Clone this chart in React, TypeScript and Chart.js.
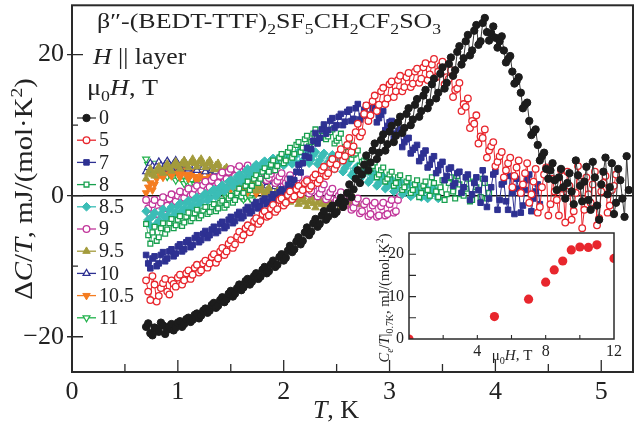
import React, { useEffect, useRef } from 'react';
import { Chart, registerables } from 'chart.js';
import { drawPoint } from 'chart.js/helpers';

Chart.register(...registerables);

const FONT = '"Liberation Serif", "Times New Roman", serif';
const INK = '#222';

// ---------- main plot data: two interleaved temperature grids ----------
const T_GRID = [
  0.70, 0.74, 0.78, 0.82, 0.86, 0.90, 0.94, 0.98, 1.02, 1.06,
  1.10, 1.14, 1.18, 1.22, 1.26, 1.30, 1.34, 1.38, 1.42, 1.46,
  1.50, 1.54, 1.58, 1.62, 1.66, 1.70, 1.74, 1.78, 1.82, 1.86,
  1.90, 1.94, 1.98, 2.02, 2.06, 2.10, 2.14, 2.18, 2.22, 2.26,
  2.30, 2.34, 2.38, 2.42, 2.46, 2.50, 2.54, 2.58, 2.62, 2.66,
  2.70, 2.74, 2.78, 2.82, 2.86, 2.90, 2.94, 2.98, 3.02, 3.06,
  3.10, 3.14, 3.18, 3.22, 3.26, 3.30, 3.34, 3.38, 3.42, 3.46,
  3.50, 3.54, 3.58, 3.62, 3.66, 3.70, 3.74, 3.78, 3.82, 3.86,
  3.90, 3.94, 3.98, 4.02, 4.06, 4.10, 4.14, 4.18, 4.22, 4.26,
  4.30, 4.34, 4.38, 4.42, 4.46, 4.50, 4.54, 4.58, 4.62, 4.66,
  4.70, 4.74, 4.78, 4.82, 4.86, 4.90, 4.94, 4.98, 5.02, 5.06,
  5.10, 5.14, 5.18, 5.22, 5.26,
];
const T_GRID_B = [
  0.72, 0.76, 0.80, 0.84, 0.88, 0.92, 0.96, 1.00, 1.04, 1.08,
  1.12, 1.16, 1.20, 1.24, 1.28, 1.32, 1.36, 1.40, 1.44, 1.48,
  1.52, 1.56, 1.60, 1.64, 1.68, 1.72, 1.76, 1.80, 1.84, 1.88,
  1.92, 1.96, 2.00, 2.04, 2.08, 2.12, 2.16, 2.20, 2.24, 2.28,
  2.32, 2.36, 2.40, 2.44, 2.48, 2.52, 2.56, 2.60, 2.64, 2.68,
  2.72, 2.76, 2.80, 2.84, 2.88, 2.92, 2.96, 3.00, 3.04, 3.08,
  3.12, 3.16, 3.20, 3.24, 3.28, 3.32, 3.36, 3.40, 3.44, 3.48,
  3.52, 3.56, 3.60, 3.64, 3.68, 3.72, 3.76, 3.80, 3.84, 3.88,
  3.92, 3.96, 4.00, 4.04, 4.08, 4.12, 4.16, 4.20, 4.24, 4.28,
  4.32, 4.36, 4.40, 4.44, 4.48, 4.52, 4.56, 4.60, 4.64, 4.68,
  4.72, 4.76, 4.80, 4.84, 4.88, 4.92, 4.96, 5.00, 5.04, 5.08,
  5.12, 5.16, 5.20, 5.24,
];

const DC_H0 = [
  -18.6, -19.5, -18.7, -19.3, -18.4, -19.0, -18.2, -18.7, -17.8, -18.2,
  -17.3, -17.6, -16.7, -17.0, -16.0, -16.3, -15.2, -15.6, -14.4, -14.7,
  -13.5, -13.9, -12.6, -13.0, -11.8, -12.2, -11.0, -11.5, -10.1, -10.7,
  -9.2, -9.8, -8.3, -8.8, -7.1, -7.6, -5.9, -6.4, -4.5, -5.1,
  -3.3, -4.0, -2.2, -3.0, -1.4, -2.3, -0.3, -0.9, 1.6, 0.9,
  3.6, 3.0, 5.7, 4.7, 7.4, 6.1, 8.7, 7.3, 9.9, 8.5,
  11.2, 9.6, 12.4, 10.8, 13.7, 12.0, 15.0, 13.2, 16.6, 14.6,
  18.2, 16.0, 19.6, 17.8, 21.2, 19.5, 22.8, 20.6, 24.2, 21.9,
  25.2, 22.0, 24.0, 21.0, 22.6, 18.9, 19.8, 15.9, 16.8, 12.4,
  13.2, 8.6, 9.4, 5.0, 6.1, 2.4, 4.6, 0.8, 3.8, -0.4,
  3.2, -1.2, 2.9, -0.8, 4.1, -2.0, 2.6, -3.4, 3.4, 0.2,
  4.6, -1.0, 2.2, -3.0, 0.8,
];
const DC_H0_B = [
  -18.1, -19.8, -18.9, -18.0, -19.6, -18.5, -19.1, -18.0, -18.6, -17.5,
  -17.9, -16.9, -17.4, -16.3, -16.6, -15.5, -15.9, -14.8, -15.1, -13.9,
  -14.3, -13.1, -13.4, -12.1, -12.6, -11.4, -11.8, -10.5, -11.0, -9.7,
  -10.1, -8.7, -9.2, -7.8, -8.0, -6.5, -6.9, -5.2, -5.6, -3.9,
  -4.4, -2.8, -3.4, -1.8, -2.6, -1.0, -1.6, 0.4, -0.2, 2.4,
  1.8, 4.4, 3.6, 6.4, 5.2, 7.9, 6.4, 9.1, 7.6, 10.4,
  8.9, 11.6, 10.0, 12.9, 11.2, 14.2, 12.4, 15.8, 13.8, 17.3,
  15.2, 18.7, 17.0, 20.4, 18.6, 21.9, 19.9, 23.4, 21.4, 24.5,
  23.2, 23.0, 22.4, 21.9, 20.6, 19.4, 17.6, 16.2, 14.6, 12.9,
  10.6, 9.0, 7.2, 5.6, 3.8, 3.6, 2.2, 2.6, 1.2, 1.8,
  0.6, 5.0, 1.4, 2.0, -0.6, 4.8, -1.4, 1.6, 5.4, 1.2,
  -2.6, 3.8, -0.4, 5.6,
];

const DC_H5 = [
  -12.0, -14.8, -12.6, -14.2, -12.4, -13.6, -12.0, -12.9, -11.2, -12.0,
  -10.6, -11.2, -9.8, -10.6, -9.2, -9.6, -8.3, -8.9, -7.4, -7.9,
  -6.3, -6.9, -5.1, -5.6, -4.2, -4.6, -3.2, -3.6, -2.2, -2.8,
  -1.3, -1.9, -0.4, -1.0, 0.6, -0.1, 1.4, 0.8, 2.1, 1.4,
  3.0, 2.3, 4.1, 3.2, 5.2, 4.4, 6.6, 5.6, 8.2, 7.0,
  10.2, 9.0, 12.8, 11.4, 14.2, 12.9, 15.3, 13.8, 16.2, 14.8,
  17.0, 15.4, 17.4, 15.9, 18.0, 16.6, 18.8, 17.2, 19.4, 17.6,
  19.0, 16.8, 17.8, 15.0, 16.0, 13.0, 13.8, 10.6, 11.4, 8.4,
  9.4, 6.4, 7.6, 4.8, 6.2, 3.6, 5.4, 2.8, 5.0, 1.6,
  4.6, 0.2, 3.8, -1.6, 3.0, -2.8, 2.4, -0.6, 3.6, -3.8,
  1.4, -2.2, 4.2, -4.6, 2.6, -1.0, 3.4, -3.2, 1.8, -2.4,
  0.8, 3.0,
];
const DC_H5_B = [
  -13.6, -11.4, -15.0, -13.1, -11.8, -14.0, -12.5, -11.6, -12.6, -11.0,
  -11.8, -10.2, -10.9, -9.6, -10.2, -8.7, -9.5, -7.9, -8.4, -6.8,
  -7.4, -5.8, -6.2, -4.6, -5.2, -3.6, -4.0, -2.6, -3.0, -1.8,
  -2.3, -0.6, -1.4, 0.1, -0.5, 0.9, 0.2, 1.8, 1.0, 2.6,
  1.8, 3.6, 2.8, 4.6, 3.8, 5.8, 5.0, 7.2, 6.2, 9.0,
  8.4, 11.6, 10.6, 13.4, 12.0, 14.8, 13.0, 15.8, 14.0, 16.4,
  14.8, 16.8, 15.4, 17.6, 16.0, 18.2, 16.4, 18.6, 16.8, 18.4,
  15.8, 16.6, 14.0, 15.2, 12.0, 12.6, 9.6, 10.2, 7.4, 8.2,
  5.4, 7.0, 4.2, 5.6, 2.6, 4.6, 1.2, 4.0, 0.4, 3.2,
  -1.0, 2.0, -2.4, 1.2, 4.0, -1.2, 0.6, -2.8, 1.0, 3.4,
  -3.4, 0.4, 2.0, -2.0, 0.2, 1.6, -4.2, 0.6, 2.8, -1.4,
  1.4,
];

const DC_H7 = [
  -8.4, -10.3, -8.6, -9.6, -8.0, -8.9, -7.6, -8.2, -6.9, -7.6,
  -6.3, -7.0, -5.6, -6.3, -5.0, -5.6, -4.4, -5.0, -3.7, -4.3,
  -3.0, -3.6, -2.3, -2.9, -1.6, -2.2, -0.9, -1.5, -0.4, -0.9,
  0.2, -0.3, 0.9, 0.6, 2.4, 2.2, 4.4, 4.6, 6.8, 6.6,
  8.9, 8.2, 10.1, 9.3, 11.0, 10.0, 11.6, 10.5, 12.2, 10.9,
  13.0, 11.3, 12.8, 11.5, 12.9, 11.0, 12.0, 9.9, 10.6, 8.8,
  9.4, 7.6, 8.2, 6.5, 7.2, 5.4, 6.4, 4.4, 5.6, 3.6,
  4.8, 2.8, 4.0, 1.8, 3.4, 1.2, 3.0, 0.2, 2.6, -1.0,
  2.4, -0.4, 3.0, -2.0, 1.6, -0.8, 2.8, -2.6, 1.0, -1.4,
  2.2, -2.2, 0.6, -1.2,
];
const DC_H7_B = [
  -9.6, -8.9, -10.0, -8.4, -9.3, -7.9, -8.6, -7.2, -7.9, -6.6,
  -7.3, -6.0, -6.6, -5.4, -6.0, -4.8, -5.3, -4.0, -4.6, -3.4,
  -3.9, -2.7, -3.2, -2.0, -2.5, -1.3, -1.8, -0.7, -1.2, -0.2,
  -0.6, 0.5, 0.2, 1.5, 1.3, 3.4, 3.3, 5.6, 5.4, 7.8,
  7.4, 9.4, 8.8, 10.6, 9.6, 11.2, 10.0, 11.9, 10.6, 12.4,
  10.8, 12.2, 10.9, 12.4, 10.4, 11.5, 9.3, 10.4, 8.1, 9.2,
  6.9, 8.0, 6.0, 6.8, 4.9, 6.0, 4.0, 5.2, 3.2, 4.4,
  2.2, 3.8, 1.4, 3.2, 0.4, 2.6, -0.6, 1.8, 0.8, 3.6,
  -1.6, 1.2, 3.4, -0.6, 2.0, -2.0, 0.4, 2.4, -2.4, 0.8,
  3.0, -0.4, 1.6,
];

const DC_H8 = [
  -4.0, -6.8, -4.4, -5.9, -3.9, -4.8, -3.3, -4.2, -2.9, -3.8,
  -2.4, -3.2, -2.0, -2.8, -1.6, -2.3, -1.2, -1.8, -0.7, -1.3,
  0.0, -0.6, 1.0, 0.4, 2.0, 1.4, 2.9, 2.4, 3.9, 3.4,
  5.0, 4.2, 5.9, 5.0, 6.8, 5.9, 7.6, 6.8, 8.5, 7.6,
  9.4, 8.2, 9.8, 8.4, 9.4, 7.8, 8.8, 6.9, 7.6, 5.8,
  6.4, 4.8, 5.5, 3.8, 4.7, 3.0, 4.0, 2.4, 3.4, 1.8,
  2.9, 1.2, 2.5, 0.8, 2.2, 0.4, 2.0, 0.0, 1.8, -0.2,
  2.2, 0.2, 2.6, -0.4, 1.6, 0.0, 2.4, -0.6, 1.2, -0.2,
  1.8, 0.4,
];
const DC_H8_B = [
  -5.6, -5.2, -6.4, -4.6, -5.4, -3.9, -4.6, -3.4, -4.3, -3.0,
  -3.6, -2.5, -3.2, -2.1, -2.6, -1.6, -2.2, -1.0, -1.7, -0.4,
  -1.0, 0.4, -0.1, 1.4, 0.8, 2.4, 1.8, 3.4, 2.8, 4.4,
  3.6, 5.4, 4.6, 6.2, 5.4, 7.2, 6.2, 8.0, 7.0, 8.8,
  7.6, 9.2, 8.0, 9.0, 7.4, 8.2, 6.4, 7.2, 5.2, 6.0,
  4.2, 5.0, 3.4, 4.2, 2.6, 3.6, 2.0, 3.0, 1.4, 2.6,
  0.8, 2.0, 0.4, 1.6, -0.2, 1.4, 0.8, 2.6, 0.6, 1.2,
  -0.6, 1.8, 0.6, 2.8, 0.2, 1.0, -0.8, 2.0, 0.8, 2.4,
  -0.4,
];

const DC_H85 = [
  -2.2, -4.2, -2.4, -3.6, -1.9, -2.9, -1.6, -2.4, -1.1, -1.9,
  -0.7, -1.4, -0.2, -0.9, 0.3, -0.4, 0.9, 0.3, 1.5, 1.0,
  2.2, 1.7, 3.0, 2.4, 3.8, 3.1, 4.4, 3.7, 4.9, 4.1,
  5.3, 4.4, 5.7, 4.7, 6.0, 4.9, 6.2, 5.0, 6.3, 5.1,
  6.2, 5.0, 6.0, 4.7, 5.8, 4.4, 5.3, 3.9, 4.8, 3.3,
  4.2, 2.8, 3.6, 2.3, 3.1, 1.8, 2.7, 1.3, 2.3, 0.9,
  2.0, 0.5, 1.7, 0.2, 1.4, -0.2, 1.2, 0.0, 1.0, -0.4,
];
const DC_H85_B = [
  -3.4, -2.9, -4.0, -2.6, -3.2, -2.0, -2.8, -1.5, -2.2, -1.0,
  -1.7, -0.5, -1.2, 0.0, -0.7, 0.6, -0.1, 1.2, 0.6, 2.0,
  1.3, 2.7, 2.0, 3.4, 2.8, 4.0, 3.3, 4.6, 3.8, 5.0,
  4.0, 5.4, 4.3, 5.6, 4.5, 5.8, 4.6, 5.9, 4.6, 5.8,
  4.5, 5.6, 4.2, 5.3, 3.8, 4.9, 3.4, 4.4, 2.9, 3.9,
  2.4, 3.4, 1.9, 2.9, 1.4, 2.4, 1.0, 2.0, 0.6, 1.7,
  0.2, 1.4, -0.1, 1.0, 0.4, 0.6, -0.4, 0.8, 0.2,
];

const DC_H9 = [
  -0.6, -2.8, -0.6, -2.2, -0.2, -1.4, 0.2, -0.8, 0.6, -0.3,
  1.0, 0.2, 1.4, 0.7, 2.0, 1.2, 2.6, 1.8, 3.3, 2.4,
  3.8, 2.8, 4.2, 3.0, 4.3, 3.0, 4.1, 2.8, 3.9, 2.5,
  3.6, 2.1, 3.2, 1.8, 2.9, 1.4, 2.6, 1.0, 2.3, 0.7,
  2.0, 0.3, 1.6, -0.1, 1.0, -0.6, 0.5, -1.2, 0.0, -1.7,
  -0.4, -2.2, -0.8, -2.6, -1.0, -2.8, -1.0, -2.6, -0.6, -2.2,
  0.2,
];
const DC_H9_B = [
  -1.8, -1.2, -2.6, -1.0, -1.8, -0.4, -1.2, 0.0, -0.4, 0.5,
  0.0, 1.0, 0.4, 1.5, 0.9, 2.2, 1.4, 2.8, 2.0, 3.4,
  2.4, 3.7, 2.6, 3.8, 2.6, 3.6, 2.4, 3.4, 2.2, 3.1,
  1.8, 2.7, 1.4, 2.4, 1.0, 2.0, 0.6, 1.7, 0.3, 1.4,
  -0.1, 1.0, -0.5, 0.5, -1.0, 0.0, -1.6, -0.4, -2.0, -0.9,
  -2.5, -1.2, -2.9, -1.4, -3.0, -1.5, -2.8, -1.2, -2.4, -0.6,
];

const DC_H95 = [
  2.4, 3.8, 2.8, 4.1, 3.2, 4.5, 3.5, 4.8, 3.8, 5.0,
  4.0, 5.2, 4.1, 5.2, 4.0, 5.0, 3.7, 4.6, 3.2, 4.0,
  2.5, 3.3, 1.8, 2.6, 1.2, 2.0, 0.7, 1.5, 0.2, 1.1,
  -0.2, 0.7, -0.5, 0.4, -0.9, 0.1, -1.2, -0.1, -1.5, -0.3,
  -1.7, -0.4, -1.8, -0.5, -1.8, -0.5, -1.7, -0.4, -1.5, -0.3,
  -1.2,
];
const DC_H95_B = [
  3.2, 3.0, 3.6, 3.5, 4.0, 3.9, 4.3, 4.2, 4.6, 4.4,
  4.7, 4.6, 4.8, 4.5, 4.6, 4.2, 4.3, 3.8, 3.7, 3.1,
  3.0, 2.4, 2.3, 1.8, 1.7, 1.2, 1.2, 0.7, 0.7, 0.3,
  0.3, 0.0, 0.0, -0.3, -0.4, -0.6, -0.6, -0.9, -0.8, -1.1,
  -1.0, -1.2, -1.1, -1.2, -1.0, -1.1, -1.0, -1.0, -0.8, -0.8,
];

const DC_H10 = [
  3.4, 4.6, 3.6, 4.8, 3.8, 4.9, 3.9, 5.0, 3.9, 4.9,
  3.8, 4.8, 3.6, 4.6, 3.4, 4.3, 3.0, 3.9, 2.6, 3.4,
  2.2, 3.0, 1.8, 2.6, 1.5, 2.3, 1.2, 2.1, 1.0, 1.9,
  0.8, 1.8, 0.6, 1.6, 0.5, 1.4,
];
const DC_H10_B = [
  4.0, 4.2, 4.2, 4.3, 4.4, 4.4, 4.5, 4.4, 4.4, 4.4,
  4.3, 4.2, 4.1, 4.0, 3.9, 3.6, 3.4, 3.2, 3.0, 2.8,
  2.6, 2.4, 2.2, 2.0, 1.9, 1.7, 1.6, 1.5, 1.4, 1.3,
  1.3, 1.2, 1.1, 1.0, 0.9,
];

const DC_H105 = [
  0.4, 1.8, 1.6, 3.3, 2.6, 4.0, 2.8, 3.9, 2.6, 3.7,
  2.4, 3.4, 2.1, 3.1, 1.8, 2.8, 1.5, 2.5, 1.2, 2.2,
  0.9, 1.9, 0.7, 1.6, 0.5, 1.4, 0.3, 1.2, 0.2, 1.0,
  0.0, 0.9, -0.1, 0.8,
];
const DC_H105_B = [
  1.2, 0.8, 2.4, 3.0, 3.4, 3.3, 3.4, 3.2, 3.2, 3.0,
  2.9, 2.7, 2.6, 2.4, 2.3, 2.1, 2.0, 1.8, 1.7, 1.5,
  1.4, 1.2, 1.1, 1.0, 0.9, 0.8, 0.7, 0.6, 0.6, 0.5,
  0.4, 0.4, 0.3,
];

const DC_H11 = [
  5.2, 3.8, 4.6, 3.2, 4.0, 2.7, 3.4, 2.2, 2.9, 1.7,
  2.4, 1.2, 1.9, 0.8, 1.5, 0.4, 1.1, 0.1, 0.8, -0.2,
  0.5, -0.4, 0.3, -0.5, 0.2, -0.6,
];
const DC_H11_B = [
  4.4, 4.3, 3.8, 3.7, 3.3, 3.1, 2.7, 2.6, 2.2, 2.1,
  1.7, 1.6, 1.3, 1.2, 0.9, 0.8, 0.5, 0.5, 0.2, 0.2,
  0.0, -0.1, -0.2, -0.2, -0.3,
];

const FIELD_LABELS = ['0', '5', '7', '8', '8.5', '9', '9.5', '10', '10.5', '11'];
const SERIES_VALUES = [DC_H0, DC_H5, DC_H7, DC_H8, DC_H85, DC_H9, DC_H95, DC_H10, DC_H105, DC_H11];
const SERIES_VALUES_B = [DC_H0_B, DC_H5_B, DC_H7_B, DC_H8_B, DC_H85_B, DC_H9_B, DC_H95_B, DC_H10_B, DC_H105_B, DC_H11_B];

const X_TICKS = [0, 1, 2, 3, 4, 5];
const X_MINOR = [0.5, 1.5, 2.5, 3.5, 4.5];
const Y_TICKS = [-20, 0, 20];
const Y_MINOR = [-10, 10];

// ---------- inset data ----------
const INSET_FIELD = [0, 5, 7, 8, 8.5, 9, 9.5, 10, 10.5, 11, 12];
const INSET_CE = [0, 5.3, 9.4, 13.4, 16.3, 18.4, 21.0, 21.7, 21.6, 22.2, 19.0];
const INSET_X_TICKS = [4, 8, 12];
const INSET_X_MINOR = [2, 4, 6, 8, 10];
const INSET_Y_TICKS = [0, 10, 20];
const INSET_Y_MINOR = [5, 10, 15, 20];

// ---------- styles ----------
const STYLES = [
  { color: '#1c1c1c', line: '#3a3a3a', fill: '#1c1c1c', style: 'circle', r: 3.7, rot: 0, bw: 1, lw: 1 },
  { color: '#e8262d', line: '#e8262d', fill: '#ffffff', style: 'circle', r: 3.3, rot: 0, bw: 1.3, lw: 1 },
  { color: '#2e3192', line: '#2e3192', fill: '#2e3192', style: 'rect', r: 3.9, rot: 0, bw: 1, lw: 1 },
  { color: '#18a04f', line: '#18a04f', fill: '#ffffff', style: 'rect', r: 3.4, rot: 0, bw: 1.3, lw: 0.8 },
  { color: '#3bbdb6', line: '#3bbdb6', fill: '#3bbdb6', style: 'rectRot', r: 4.3, rot: 0, bw: 1, lw: 0.8 },
  { color: '#c2379b', line: '#c2379b', fill: '#ffffff', style: 'circle', r: 3.3, rot: 0, bw: 1.3, lw: 0.8 },
  { color: '#a39b3c', line: '#a39b3c', fill: '#a39b3c', style: 'triangle', r: 4.3, rot: 0, bw: 1, lw: 0.8 },
  { color: '#2e3192', line: '#2e3192', fill: '#ffffff', style: 'triangle', r: 4.0, rot: 0, bw: 1.2, lw: 0.8 },
  { color: '#f47c20', line: '#f47c20', fill: '#f47c20', style: 'triangle', r: 4.3, rot: 180, bw: 1, lw: 0.8 },
  { color: '#21b14b', line: '#21b14b', fill: '#ffffff', style: 'triangle', r: 4.0, rot: 180, bw: 1.2, lw: 0.8 },
];

type Run = { t: string; it?: boolean; sub?: boolean; sup?: boolean };

function drawRuns(
  ctx: CanvasRenderingContext2D, runs: Run[], x: number, y: number, size: number,
  align: 'left' | 'center' = 'left', hs = 1,
) {
  const parts = runs.map((r) => {
    const s = r.sub || r.sup ? size * 0.68 : size;
    const font = `${r.it ? 'italic ' : ''}${s}px ${FONT}`;
    ctx.font = font;
    return { r, font, w: ctx.measureText(r.t).width, dy: r.sub ? size * 0.28 : r.sup ? -size * 0.4 : 0 };
  });
  const total = parts.reduce((a, p) => a + p.w, 0) * hs;
  const sx = align === 'center' ? x - total / 2 : x;
  ctx.save();
  ctx.translate(sx, y);
  ctx.scale(hs, 1);
  ctx.textAlign = 'left';
  ctx.textBaseline = 'alphabetic';
  let cx = 0;
  for (const p of parts) {
    ctx.font = p.font;
    ctx.fillText(p.r.t, cx, p.dy);
    cx += p.w;
  }
  ctx.restore();
}

const mainDecor = {
  id: 'mainDecor',
  beforeDatasetsDraw(chart: any) {
    const { ctx, chartArea, scales } = chart;
    const y0 = scales.y.getPixelForValue(0);
    ctx.save();
    ctx.strokeStyle = '#111';
    ctx.lineWidth = 1.5;
    ctx.beginPath();
    ctx.moveTo(chartArea.left, y0);
    ctx.lineTo(chartArea.right, y0);
    ctx.stroke();
    ctx.restore();
  },
  afterDatasetsDraw(chart: any) {
    const { ctx, chartArea, scales } = chart;
    const { left, right, top, bottom } = chartArea;
    ctx.save();
    ctx.strokeStyle = '#2a2a2a';
    ctx.lineWidth = 2;
    ctx.strokeRect(left, top, right - left, bottom - top);
    ctx.lineWidth = 1.3;
    ctx.beginPath();
    X_TICKS.forEach((v) => {
      const px = scales.x.getPixelForValue(v);
      ctx.moveTo(px, bottom);
      ctx.lineTo(px, bottom - 12);
    });
    X_MINOR.forEach((v) => {
      const px = scales.x.getPixelForValue(v);
      ctx.moveTo(px, bottom);
      ctx.lineTo(px, bottom - 8);
    });
    Y_TICKS.forEach((v) => {
      const py = scales.y.getPixelForValue(v);
      ctx.moveTo(left - 5, py);
      ctx.lineTo(left + 11, py);
    });
    Y_MINOR.forEach((v) => {
      const py = scales.y.getPixelForValue(v);
      ctx.moveTo(left, py);
      ctx.lineTo(left + 6, py);
    });
    ctx.stroke();

    // legend
    chart.data.datasets.forEach((ds: any, i: number) => {
      const st = STYLES[i];
      const ly = 118 + i * 22.2;
      ctx.strokeStyle = st.line;
      ctx.lineWidth = 1.3;
      ctx.beginPath();
      ctx.moveTo(77, ly);
      ctx.lineTo(96, ly);
      ctx.stroke();
      ctx.fillStyle = st.fill;
      ctx.strokeStyle = st.color;
      ctx.lineWidth = st.bw;
      drawPoint(ctx, { pointStyle: st.style, radius: st.r, rotation: st.rot, borderWidth: st.bw } as any, 86.5, ly);
      ctx.fillStyle = INK;
      ctx.font = `20px ${FONT}`;
      ctx.textAlign = 'left';
      ctx.textBaseline = 'middle';
      ctx.fillText(ds.label, 99, ly + 1);
    });

    // annotations
    ctx.fillStyle = INK;
    drawRuns(ctx, [
      { t: 'β″-(BEDT-TTF)' }, { t: '2', sub: true }, { t: 'SF' }, { t: '5', sub: true },
      { t: 'CH' }, { t: '2', sub: true }, { t: 'CF' }, { t: '2', sub: true }, { t: 'SO' }, { t: '3', sub: true },
    ], 97, 28, 22, 'left', 1.18);
    drawRuns(ctx, [{ t: 'H', it: true }, { t: ' || layer' }], 93, 64, 23, 'left', 1.12);
    drawRuns(ctx, [{ t: 'μ' }, { t: '0', sub: true }, { t: 'H', it: true }, { t: ', T' }], 87, 95, 23, 'left', 1.14);

    // axis titles
    drawRuns(ctx, [{ t: 'T', it: true }, { t: ', K' }], 336, 418, 25, 'center', 1.04);
    ctx.save();
    ctx.translate(24, 189);
    ctx.rotate(-Math.PI / 2);
    drawRuns(ctx, [
      { t: 'Δ' }, { t: 'C', it: true }, { t: '/' }, { t: 'T', it: true }, { t: ', mJ/(mol·K' }, { t: '2', sup: true }, { t: ')' },
    ], 0, 8, 25, 'center', 1.15);
    ctx.restore();
    ctx.restore();
  },
};

const insetDecor = {
  id: 'insetDecor',
  beforeDatasetsDraw(chart: any) {
    const { ctx, chartArea } = chart;
    ctx.save();
    ctx.fillStyle = '#ffffff';
    ctx.fillRect(chartArea.left, chartArea.top, chartArea.right - chartArea.left, chartArea.bottom - chartArea.top);
    ctx.restore();
  },
  afterDraw(chart: any) {
    const { ctx, chartArea, scales } = chart;
    const { left, right, top, bottom } = chartArea;
    ctx.save();
    ctx.strokeStyle = '#2a2a2a';
    ctx.lineWidth = 1.5;
    ctx.strokeRect(left, top, right - left, bottom - top);
    ctx.lineWidth = 1.1;
    ctx.beginPath();
    INSET_X_MINOR.forEach((v) => {
      const px = scales.x.getPixelForValue(v);
      ctx.moveTo(px, bottom);
      ctx.lineTo(px, bottom - 4);
    });
    INSET_Y_MINOR.forEach((v) => {
      const py = scales.y.getPixelForValue(v);
      ctx.moveTo(left, py);
      ctx.lineTo(left + 7, py);
    });
    ctx.stroke();
    ctx.fillStyle = INK;
    drawRuns(ctx, [{ t: 'μ' }, { t: '0', sub: true }, { t: 'H', it: true }, { t: ', T' }], 142, 136, 15, 'center');
    ctx.save();
    ctx.translate(14, 74);
    ctx.rotate(-Math.PI / 2);
    drawRuns(ctx, [
      { t: 'C', it: true }, { t: 'e', it: true, sub: true }, { t: '/' }, { t: 'T', it: true }, { t: '|' },
      { t: '0.7K', sub: true }, { t: ', mJ/(mol·K' }, { t: '2', sup: true }, { t: ')' },
    ], 0, 5, 14.5, 'center');
    ctx.restore();
    ctx.restore();
  },
};

const zeroPadY = (s: any) => { s.paddingTop = 0; s.paddingBottom = 0; };
const zeroPadX = (s: any) => { s.paddingLeft = 0; s.paddingRight = 0; };

export default function App() {
  const mainRef = useRef<HTMLCanvasElement | null>(null);
  const insetRef = useRef<HTMLCanvasElement | null>(null);

  useEffect(() => {
    document.body.style.margin = '0';
    const datasets = SERIES_VALUES.map((vals, i) => {
      const st = STYLES[i];
      const pts = [
        ...vals.map((y, k) => ({ x: T_GRID[k], y })),
        ...SERIES_VALUES_B[i].map((y, k) => ({ x: T_GRID_B[k], y })),
      ].sort((a, b) => a.x - b.x);
      return {
        label: FIELD_LABELS[i],
        data: pts,
        showLine: true,
        borderColor: st.line,
        borderWidth: st.lw,
        pointStyle: st.style,
        pointRadius: st.r,
        pointRotation: st.rot,
        pointBackgroundColor: st.fill,
        pointBorderColor: st.color,
        pointBorderWidth: st.bw,
      };
    });

    const main = new Chart(mainRef.current as HTMLCanvasElement, {
      type: 'scatter',
      data: { datasets } as any,
      options: {
        responsive: false,
        animation: false,
        layout: { padding: { top: 4, right: 10, left: 0, bottom: 0 } },
        plugins: { legend: { display: false }, tooltip: { enabled: false } },
        scales: {
          x: {
            type: 'linear',
            min: 0,
            max: 5.3,
            afterBuildTicks: (s: any) => { s.ticks = X_TICKS.map((v) => ({ value: v })); },
            afterFit: (s: any) => { s.height = 58; zeroPadX(s); },
            grid: { display: false, drawTicks: false },
            border: { display: false },
            ticks: {
              autoSkip: false,
              maxRotation: 0,
              padding: 5,
              color: INK,
              font: { family: FONT, size: 26 },
              callback: (v: any) => String(v),
            },
          },
          y: {
            type: 'linear',
            min: -25,
            max: 27,
            afterBuildTicks: (s: any) => { s.ticks = Y_TICKS.map((v) => ({ value: v })); },
            afterFit: (s: any) => { s.width = 72; zeroPadY(s); },
            grid: { display: false, drawTicks: false },
            border: { display: false },
            ticks: {
              padding: 8,
              color: INK,
              font: { family: FONT, size: 26 },
              callback: (v: any) => (v < 0 ? '−' + Math.abs(v) : String(v)),
            },
          },
        },
      } as any,
      plugins: [mainDecor],
    });

    const inset = new Chart(insetRef.current as HTMLCanvasElement, {
      type: 'scatter',
      data: {
        datasets: [{
          data: INSET_FIELD.map((x, i) => ({ x, y: INSET_CE[i] })),
          pointStyle: 'circle',
          pointRadius: 4.6,
          pointBackgroundColor: '#e8262d',
          pointBorderColor: '#e8262d',
          pointBorderWidth: 0,
          clip: 0,
        }],
      } as any,
      options: {
        responsive: false,
        animation: false,
        layout: { padding: { top: 9, right: 18, left: 0, bottom: 0 } },
        plugins: { legend: { display: false }, tooltip: { enabled: false } },
        scales: {
          x: {
            type: 'linear',
            min: 0,
            max: 12,
            afterBuildTicks: (s: any) => { s.ticks = INSET_X_TICKS.map((v) => ({ value: v })); },
            afterFit: (s: any) => { s.height = 31; zeroPadX(s); },
            grid: { display: false, drawTicks: false },
            border: { display: false },
            ticks: { autoSkip: false, maxRotation: 0, padding: 3, color: INK, font: { family: FONT, size: 16 } },
          },
          y: {
            type: 'linear',
            min: 0,
            max: 25,
            afterBuildTicks: (s: any) => { s.ticks = INSET_Y_TICKS.map((v) => ({ value: v })); },
            afterFit: (s: any) => { s.width = 39; zeroPadY(s); },
            grid: { display: false, drawTicks: false },
            border: { display: false },
            ticks: { padding: 5, color: INK, font: { family: FONT, size: 16 } },
          },
        },
      } as any,
      plugins: [insetDecor],
    });

    return () => {
      main.destroy();
      inset.destroy();
    };
  }, []);

  return (
    <div style={{ position: 'fixed', left: 0, top: 0, width: 643, height: 430, background: '#fff' }}>
      <canvas ref={mainRef} width={643} height={430} style={{ position: 'absolute', left: 0, top: 0, display: 'block' }} />
      <canvas ref={insetRef} width={262} height={146} style={{ position: 'absolute', left: 370, top: 224, display: 'block' }} />
    </div>
  );
}
